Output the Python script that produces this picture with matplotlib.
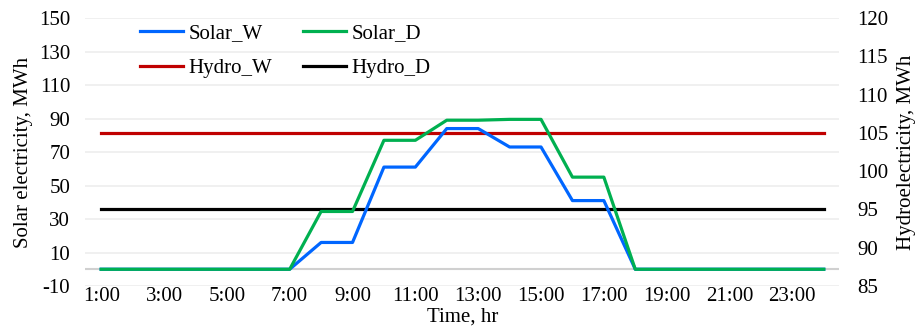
import matplotlib
matplotlib.use("Agg")
import matplotlib.pyplot as plt

hours = list(range(1, 25))
hour_labels = [f"{h}:00" for h in hours]
solar_w = [0, 0, 0, 0, 0, 0, 0, 16, 16, 61, 61, 84, 84, 73, 73, 41, 41, 0, 0, 0, 0, 0, 0, 0]
solar_d = [0, 0, 0, 0, 0, 0, 0, 34.5, 34.5, 77, 77, 89, 89, 89.5, 89.5, 55, 55, 0, 0, 0, 0, 0, 0, 0]
hydro_w = [105] * 24
hydro_d = [95] * 24

plt.rcParams['font.family'] = ['Liberation Serif', 'DejaVu Serif']
plt.rcParams['axes.unicode_minus'] = False
fs = 15

fig = plt.figure(figsize=(9.21, 3.34), dpi=100)
ax = fig.add_axes([0.0928, 0.1437, 0.8187, 0.8023])
ax2 = ax.twinx()

ax.set_xlim(0.5, 24.5)
ax.set_ylim(-10, 150)
ax2.set_ylim(85, 120)

for y in range(-10, 151, 20):
    ax.axhline(y, color='#eeeeee', lw=1.2, zorder=0)
ax.axhline(0, color='#d0d0d0', lw=1.5, zorder=0.5)

l1, = ax.plot(hours, solar_w, color='#0066FF', lw=2.3, label='Solar_W', zorder=3)
l2, = ax.plot(hours, solar_d, color='#00B050', lw=2.3, label='Solar_D', zorder=4)
l3, = ax2.plot(hours, hydro_w, color='#C00000', lw=2.3, label='Hydro_W')
l4, = ax2.plot(hours, hydro_d, color='#000000', lw=2.3, label='Hydro_D')

ax.set_yticks(range(-10, 151, 20))
ax2.set_yticks(range(85, 121, 5))
ax.set_xticks(hours[::2])
ax.set_xticklabels(hour_labels[::2])

for a in (ax, ax2):
    for s in a.spines.values():
        s.set_visible(False)
    a.tick_params(length=0, labelsize=fs)
ax.tick_params(axis='y', pad=11)
ax.tick_params(axis='x', pad=1)
ax2.tick_params(axis='y', pad=13)

ax.set_xlabel('Time, hr', fontsize=fs, labelpad=1)
ax.set_ylabel('Solar electricity, MWh', fontsize=fs, labelpad=4)
ax2.set_ylabel('Hydroelectricity, MWh', fontsize=fs, labelpad=6)

ax.set_zorder(ax2.get_zorder() + 1)
ax.patch.set_visible(False)

leg = ax.legend([l1, l3, l2, l4], ['Solar_W', 'Hydro_W', 'Solar_D', 'Hydro_D'],
                ncol=2, frameon=False, fontsize=fs, loc='upper left',
                bbox_to_anchor=(0.048, 1.05), handlelength=2.05, handletextpad=0.25,
                columnspacing=1.5, labelspacing=0.75)

fig.savefig('out.png', dpi=100)
